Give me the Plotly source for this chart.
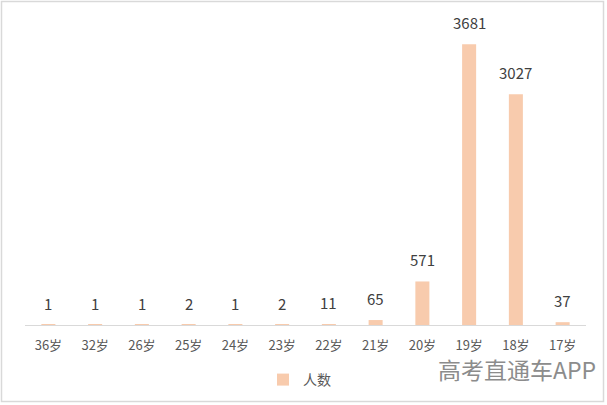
import plotly.graph_objects as go

categories = ["36岁", "32岁", "26岁", "25岁", "24岁", "23岁", "22岁", "21岁", "20岁", "19岁", "18岁", "17岁"]
counts = [1, 1, 1, 2, 1, 2, 11, 65, 571, 3681, 3027, 37]
series_name = "人数"

W, H = 607, 405
L, R, T, B = 25, 21, 20, 80
pw, ph = W - L - R, H - T - B

def px_x(x):
    return (x - L) / pw

def px_y(y):
    return (H - B - y) / ph

fig = go.Figure()
fig.add_trace(go.Bar(
    x=categories, y=counts, name=series_name,
    marker=dict(color="#F8CBAD", line=dict(width=0)),
    showlegend=True, hoverinfo="skip",
))

for c, v in zip(categories, counts):
    fig.add_annotation(x=c, y=v, xref="x", yref="y", text=str(v), showarrow=False,
                       yanchor="bottom", yshift=9,
                       font=dict(family="Noto Sans CJK SC, sans-serif", size=15, color="#404040"))

fig.add_annotation(text="高考直通车APP", xref="paper", yref="paper",
                   x=px_x(598), y=px_y(369), xanchor="right", yanchor="middle",
                   showarrow=False,
                   font=dict(size=23, color="#8C8C8C", family="Noto Sans CJK SC, sans-serif"))

fig.update_layout(
    width=W, height=H,
    margin=dict(l=L, r=R, t=T, b=B, autoexpand=False),
    paper_bgcolor="white", plot_bgcolor="white",
    bargap=0.7,
    font=dict(family="Noto Sans CJK SC, sans-serif"),
    xaxis=dict(showline=True, linecolor="#D9D9D9", linewidth=1, ticks="",
               tickfont=dict(size=13, color="#595959"), showgrid=False, zeroline=False,
               ticklabelstandoff=8, range=[-0.5, len(categories) - 0.5]),
    yaxis=dict(range=[0, 4000], visible=False, showgrid=False, zeroline=False),
    showlegend=True,
    legend=dict(orientation="h", x=0.5 - 6 / pw, xanchor="center", y=px_y(380), yanchor="middle",
                font=dict(size=14, color="#595959"), itemwidth=30),
    shapes=[dict(type="rect", xref="paper", yref="paper",
                 x0=px_x(1.5), x1=px_x(603.5), y0=px_y(401.5), y1=px_y(1.5),
                 line=dict(color="#D9D9D9", width=1.5), fillcolor="rgba(0,0,0,0)", layer="below")],
)

fig.write_html("out.html", config={"displayModeBar": False},
               post_script="document.body.style.margin='0';")
